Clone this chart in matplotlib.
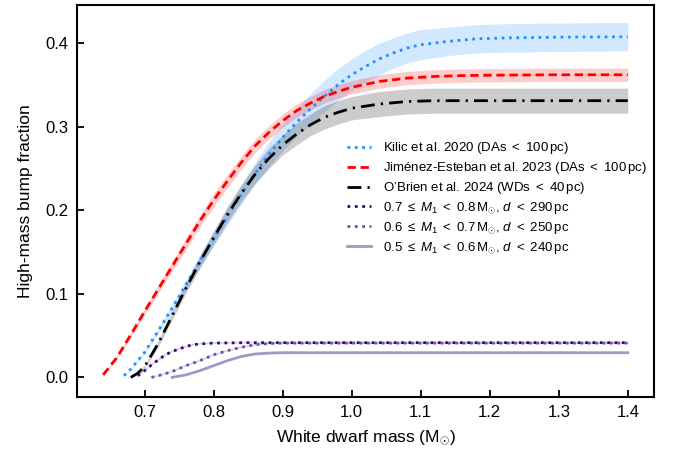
import matplotlib
matplotlib.use("Agg")
import matplotlib.pyplot as plt
import numpy as np

plt.rcParams['font.family'] = ['Liberation Sans', 'DejaVu Sans']
plt.rcParams['mathtext.fontset'] = 'custom'
plt.rcParams['mathtext.rm'] = 'Liberation Sans'
plt.rcParams['mathtext.it'] = 'Liberation Sans:italic'
plt.rcParams['mathtext.bf'] = 'Liberation Sans:bold'

# Kilic et al. 2020
kilic_m = [0.67, 0.68, 0.70, 0.72, 0.74, 0.76, 0.78, 0.80, 0.82, 0.84, 0.86, 0.88, 0.90, 0.92, 0.94,
           0.96, 0.98, 1.00, 1.02, 1.04, 1.06, 1.08, 1.10, 1.14, 1.18, 1.22, 1.30, 1.40]
kilic_f = [0.002, 0.010, 0.030, 0.056, 0.083, 0.111, 0.139, 0.166, 0.193, 0.219, 0.244, 0.267, 0.287,
           0.305, 0.321, 0.336, 0.350, 0.362, 0.372, 0.381, 0.388, 0.394, 0.398, 0.402, 0.405, 0.406,
           0.407, 0.4075]
kilic_err = [0.001, 0.001, 0.002, 0.003, 0.005, 0.006, 0.008, 0.009, 0.011, 0.012, 0.013, 0.015, 0.016,
             0.017, 0.018, 0.019, 0.019, 0.019, 0.019, 0.019, 0.018, 0.018, 0.018, 0.017, 0.017, 0.017,
             0.017, 0.017]

# Jiménez-Esteban et al. 2023
je_m = [0.64, 0.66, 0.68, 0.70, 0.72, 0.74, 0.76, 0.78, 0.80, 0.82, 0.84, 0.86, 0.88, 0.90, 0.92, 0.94,
        0.96, 0.98, 1.00, 1.04, 1.08, 1.12, 1.16, 1.20, 1.30, 1.40]
je_f = [0.003, 0.024, 0.051, 0.079, 0.106, 0.133, 0.160, 0.187, 0.212, 0.235, 0.257, 0.277, 0.293,
        0.307, 0.319, 0.328, 0.336, 0.342, 0.347, 0.354, 0.358, 0.360, 0.361, 0.3615, 0.362, 0.362]
je_err = [0.001, 0.002, 0.003, 0.004, 0.005, 0.006, 0.007, 0.007, 0.008, 0.008, 0.008, 0.008, 0.008,
          0.008, 0.008, 0.008, 0.008, 0.008, 0.008, 0.008, 0.008, 0.008, 0.008, 0.008, 0.008, 0.008]

# O'Brien et al. 2024
ob_m = [0.68, 0.69, 0.70, 0.72, 0.74, 0.76, 0.78, 0.80, 0.82, 0.84, 0.86, 0.88, 0.90, 0.92, 0.94, 0.96,
        0.98, 1.00, 1.04, 1.08, 1.12, 1.20, 1.30, 1.40]
ob_f = [0.000, 0.005, 0.013, 0.041, 0.074, 0.107, 0.138, 0.167, 0.195, 0.220, 0.243, 0.262, 0.278,
        0.291, 0.302, 0.311, 0.317, 0.322, 0.327, 0.330, 0.331, 0.331, 0.331, 0.331]
ob_err = [0.001, 0.001, 0.002, 0.004, 0.005, 0.006, 0.007, 0.008, 0.009, 0.010, 0.011, 0.012, 0.012,
          0.013, 0.013, 0.014, 0.014, 0.014, 0.015, 0.015, 0.015, 0.015, 0.015, 0.015]

# 0.7 <= M1 < 0.8
p7_m = [0.69, 0.70, 0.71, 0.72, 0.73, 0.74, 0.75, 0.76, 0.77, 0.78, 0.80, 0.85, 1.00, 1.40]
p7_f = [0.002, 0.008, 0.015, 0.021, 0.027, 0.031, 0.034, 0.037, 0.039, 0.040, 0.041, 0.0415, 0.0415, 0.0415]

# 0.6 <= M1 < 0.7
p6_m = [0.71, 0.72, 0.74, 0.76, 0.78, 0.80, 0.82, 0.84, 0.86, 0.88, 0.90, 1.00, 1.40]
p6_f = [0.000, 0.002, 0.007, 0.014, 0.020, 0.027, 0.032, 0.036, 0.039, 0.0405, 0.041, 0.041, 0.041]

# 0.5 <= M1 < 0.6
p5_m = [0.74, 0.76, 0.78, 0.80, 0.82, 0.84, 0.86, 0.88, 0.90, 1.00, 1.40]
p5_f = [0.000, 0.003, 0.008, 0.014, 0.020, 0.025, 0.028, 0.029, 0.0295, 0.0295, 0.0295]

labels = [
    r"Kilic et al. 2020 (DAs $<$ 100$\,$pc)",
    r"Jiménez-Esteban et al. 2023 (DAs $<$ 100$\,$pc)",
    r"O’Brien et al. 2024 (WDs $<$ 40$\,$pc)",
    r"0.7 $\leq$ $M_1$ $<$ 0.8$\,$M$_{\odot}$, $d$ $<$ 290$\,$pc",
    r"0.6 $\leq$ $M_1$ $<$ 0.7$\,$M$_{\odot}$, $d$ $<$ 250$\,$pc",
    r"0.5 $\leq$ $M_1$ $<$ 0.6$\,$M$_{\odot}$, $d$ $<$ 240$\,$pc",
]

fig = plt.figure(figsize=(6.73, 4.53), dpi=100)
ax = fig.add_axes([0.1144, 0.1236, 0.8574, 0.8654])

def band(m, f, e, color, alpha):
    m = np.array(m); f = np.array(f); e = np.array(e)
    ax.fill_between(m, f - e, f + e, color=color, alpha=alpha, lw=0)

band(kilic_m, kilic_f, kilic_err, '#1E90FF', 0.2)
band(je_m, je_f, je_err, 'red', 0.2)
band(ob_m, ob_f, ob_err, 'black', 0.2)

c7 = '#3f007d'
c6 = '#6a51a3'
c5 = '#9e9ac8'

ax.plot(p7_m, np.array(p7_f), color='#bcbddc', lw=1.0, alpha=0.8)
ax.plot(p6_m, np.array(p6_f), color='#bcbddc', lw=1.0, alpha=0.8)

l1, = ax.plot(kilic_m, kilic_f, color='#1E90FF', lw=2, linestyle=':')
l2, = ax.plot(je_m, je_f, color='red', lw=2, dashes=(3, 1.7))
l3, = ax.plot(ob_m, ob_f, color='black', lw=2, dashes=(5, 2.2, 0.8, 2.2))
l4, = ax.plot(p7_m, p7_f, color=c7, lw=2, linestyle=':')
l5, = ax.plot(p6_m, p6_f, color=c6, lw=2, linestyle=':')
l6, = ax.plot(p5_m, p5_f, color=c5, lw=2, linestyle='-')

ax.set_xlim(0.602, 1.438)
ax.set_ylim(-0.0235, 0.4455)
ax.set_xticks([0.7, 0.8, 0.9, 1.0, 1.1, 1.2, 1.3, 1.4])
ax.set_yticks([0.0, 0.1, 0.2, 0.3, 0.4])
ax.set_xticklabels(['0.7', '0.8', '0.9', '1.0', '1.1', '1.2', '1.3', '1.4'])
ax.set_yticklabels(['0.0', '0.1', '0.2', '0.3', '0.4'])
ax.tick_params(direction='in', length=5, width=1.3, labelsize=12, pad=6)
for s in ax.spines.values():
    s.set_linewidth(1.5)

ax.set_xlabel(r"White dwarf mass (M$_{\odot}$)", fontsize=12.5, labelpad=6)
ax.set_ylabel("High-mass bump fraction", fontsize=12.5, labelpad=9)

ax.legend([l1, l2, l3, l4, l5, l6], labels, loc='upper left',
          bbox_to_anchor=(0.468, 0.655), frameon=False, fontsize=9.5,
          handlelength=1.85, handletextpad=0.85, labelspacing=0.3, borderpad=0, borderaxespad=0)

fig.savefig('out.png', dpi=100)
